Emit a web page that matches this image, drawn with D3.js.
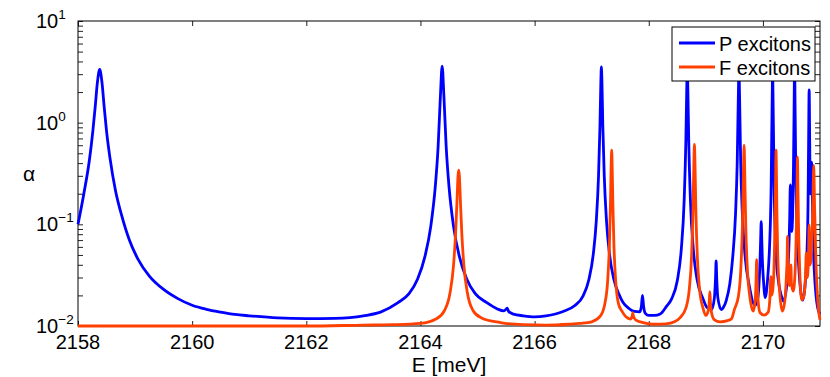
<!DOCTYPE html>
<html>
<head>
<meta charset="utf-8">
<script src="https://cdn.jsdelivr.net/npm/d3@7"></script>
<style>
  body { margin: 0; background: #fff; }
  svg { display: block; }
  text { font-family: "Liberation Sans", Arial, Helvetica, sans-serif; fill: #000; }
</style>
</head>
<body>
<svg id="chart" width="830" height="377"></svg>
<script>
// P excitons (blue), energy in meV and absorption
const pE = [2158.00, 2158.10, 2158.20, 2158.26, 2158.30, 2158.34, 2158.38, 2158.42, 2158.46, 2158.50,
  2158.56, 2158.66, 2158.76, 2158.90, 2159.05, 2159.25, 2159.50, 2159.75, 2160.00, 2160.25,
  2160.50, 2160.75, 2161.00, 2161.50, 2162.00, 2162.50, 2163.00, 2163.30, 2163.60, 2163.80,
  2163.95, 2164.08, 2164.18, 2164.26, 2164.31, 2164.35, 2164.38, 2164.41, 2164.45, 2164.50,
  2164.58, 2164.68, 2164.81, 2164.96, 2165.16, 2165.35, 2165.46, 2165.50, 2165.52, 2165.545,
  2165.63, 2165.80, 2166.00, 2166.20, 2166.50, 2166.70, 2166.85, 2166.95, 2167.03, 2167.08,
  2167.12, 2167.145, 2167.16, 2167.17, 2167.18, 2167.195, 2167.22, 2167.26, 2167.31, 2167.39,
  2167.49, 2167.55, 2167.64, 2167.75, 2167.84, 2167.87, 2167.89, 2167.91, 2167.94, 2168.00,
  2168.10, 2168.20, 2168.31, 2168.40, 2168.50, 2168.57, 2168.62, 2168.65, 2168.665, 2168.675,
  2168.685, 2168.70, 2168.73, 2168.78, 2168.85, 2168.95, 2169.02, 2169.10, 2169.15, 2169.17,
  2169.18, 2169.19, 2169.21, 2169.27, 2169.30, 2169.36, 2169.42, 2169.47, 2169.52, 2169.55,
  2169.57, 2169.58, 2169.59, 2169.61, 2169.64, 2169.69, 2169.76, 2169.86, 2169.90, 2169.93,
  2169.95, 2169.96, 2169.97, 2169.98, 2169.99, 2170.01, 2170.04, 2170.08, 2170.11, 2170.13,
  2170.145, 2170.155, 2170.165, 2170.17, 2170.175, 2170.185, 2170.195, 2170.21, 2170.23, 2170.27,
  2170.32, 2170.36, 2170.42, 2170.45, 2170.47, 2170.48, 2170.49, 2170.505, 2170.52, 2170.535,
  2170.545, 2170.555, 2170.565, 2170.575, 2170.59, 2170.61, 2170.64, 2170.68, 2170.70, 2170.74,
  2170.77, 2170.79, 2170.80, 2170.81, 2170.82, 2170.83, 2170.845, 2170.855, 2170.865, 2170.88,
  2170.90, 2170.93, 2170.96, 2171.00];
const pA = [0.100, 0.197, 0.429, 0.825, 1.405, 2.49, 3.35, 2.49, 1.405, 0.825,
  0.45, 0.21, 0.125, 0.070, 0.0455, 0.031, 0.0229, 0.0186, 0.0160, 0.0146,
  0.0137, 0.0130, 0.0126, 0.0120, 0.0118, 0.0119, 0.0126, 0.0137, 0.0169, 0.0208,
  0.029, 0.0486, 0.095, 0.236, 0.59, 1.86, 3.6, 1.86, 0.59, 0.236,
  0.095, 0.0486, 0.029, 0.0208, 0.0170, 0.0147, 0.0141, 0.0146, 0.0150, 0.0139,
  0.0131, 0.0126, 0.0123, 0.0126, 0.0139, 0.0158, 0.0198, 0.0285, 0.052, 0.107,
  0.30, 0.934, 2.44, 3.53, 2.44, 0.934, 0.30, 0.107, 0.052, 0.0285,
  0.0198, 0.0170, 0.0151, 0.0139, 0.0138, 0.0155, 0.0200, 0.0155, 0.0133, 0.0127,
  0.0127, 0.0131, 0.0156, 0.0185, 0.028, 0.057, 0.171, 0.667, 2.07, 3.5,
  2.07, 0.667, 0.171, 0.057, 0.028, 0.0185, 0.0152, 0.0145, 0.019, 0.030,
  0.0436, 0.030, 0.019, 0.0145, 0.0150, 0.018, 0.026, 0.047, 0.126, 0.415,
  1.92, 3.5, 1.92, 0.415, 0.126, 0.047, 0.025, 0.0160, 0.0175, 0.025,
  0.045, 0.07, 0.106, 0.07, 0.045, 0.028, 0.019, 0.028, 0.05, 0.10,
  0.25, 0.8, 2.2, 3.5, 2.2, 0.8, 0.25, 0.10, 0.05, 0.028,
  0.020, 0.0175, 0.026, 0.05, 0.12, 0.244, 0.15, 0.085, 0.12, 0.35,
  1.2, 3.5, 1.2, 0.35, 0.12, 0.06, 0.03, 0.019, 0.018, 0.026,
  0.05, 0.15, 0.6, 2.1, 0.6, 0.2, 0.3, 0.41, 0.2, 0.07,
  0.035, 0.020, 0.015, 0.013];

// F excitons (orange)
const fE = [2158.00, 2160.00, 2162.00, 2163.00, 2163.50, 2164.00, 2164.27, 2164.42, 2164.52, 2164.58,
  2164.615, 2164.64, 2164.658, 2164.67, 2164.682, 2164.70, 2164.725, 2164.76, 2164.82, 2164.92,
  2165.07, 2165.40, 2165.80, 2166.20, 2166.60, 2166.80, 2167.00, 2167.15, 2167.23, 2167.28,
  2167.31, 2167.33, 2167.34, 2167.35, 2167.36, 2167.37, 2167.39, 2167.42, 2167.47, 2167.53,
  2167.60, 2167.68, 2167.71, 2167.72, 2167.73, 2167.77, 2167.90, 2168.10, 2168.30, 2168.45,
  2168.55, 2168.65, 2168.71, 2168.75, 2168.775, 2168.79, 2168.80, 2168.81, 2168.825, 2168.85,
  2168.89, 2168.95, 2169.00, 2169.04, 2169.06, 2169.07, 2169.08, 2169.10, 2169.15, 2169.25,
  2169.38, 2169.45, 2169.50, 2169.57, 2169.61, 2169.64, 2169.655, 2169.665, 2169.67, 2169.675,
  2169.685, 2169.70, 2169.73, 2169.77, 2169.83, 2169.865, 2169.88, 2169.89, 2169.90, 2169.915,
  2169.95, 2170.02, 2170.09, 2170.12, 2170.14, 2170.15, 2170.17, 2170.20, 2170.215, 2170.225,
  2170.23, 2170.235, 2170.245, 2170.26, 2170.295, 2170.34, 2170.38, 2170.41, 2170.425, 2170.43,
  2170.44, 2170.46, 2170.475, 2170.49, 2170.50, 2170.53, 2170.565, 2170.585, 2170.598, 2170.605,
  2170.612, 2170.625, 2170.645, 2170.68, 2170.72, 2170.745, 2170.76, 2170.775, 2170.795, 2170.81,
  2170.825, 2170.855, 2170.875, 2170.89, 2170.905, 2170.93, 2170.96, 2171.00];
const fA = [0.0100, 0.0100, 0.0100, 0.0102, 0.0103, 0.0106, 0.0117, 0.0142, 0.0215, 0.040,
  0.080, 0.169, 0.299, 0.342, 0.299, 0.169, 0.080, 0.040, 0.0215, 0.0142,
  0.0120, 0.0108, 0.0103, 0.0102, 0.0104, 0.0106, 0.0110, 0.0125, 0.0165, 0.028,
  0.0616, 0.17, 0.348, 0.538, 0.348, 0.17, 0.0616, 0.028, 0.0165, 0.0140,
  0.0123, 0.0117, 0.0126, 0.0135, 0.0126, 0.0115, 0.0108, 0.0104, 0.0105, 0.0110,
  0.0121, 0.0150, 0.023, 0.049, 0.14, 0.39, 0.61, 0.39, 0.14, 0.049,
  0.023, 0.0150, 0.0127, 0.0140, 0.0175, 0.0218, 0.0175, 0.0135, 0.0115, 0.0110,
  0.0113, 0.0118, 0.0145, 0.0195, 0.034, 0.094, 0.245, 0.511, 0.60, 0.511,
  0.245, 0.094, 0.034, 0.0195, 0.0140, 0.018, 0.028, 0.045, 0.028, 0.018,
  0.0135, 0.0128, 0.0136, 0.018, 0.0306, 0.020, 0.022, 0.049, 0.132, 0.386,
  0.537, 0.386, 0.132, 0.049, 0.021, 0.0140, 0.017, 0.030, 0.050, 0.076,
  0.045, 0.025, 0.028, 0.040, 0.026, 0.022, 0.035, 0.09, 0.25, 0.46,
  0.25, 0.09, 0.035, 0.018, 0.020, 0.030, 0.052, 0.030, 0.040, 0.099,
  0.040, 0.060, 0.15, 0.38, 0.15, 0.040, 0.018, 0.0115];

const xTicks = [2158, 2160, 2162, 2164, 2166, 2168, 2170];
const yMajor = [0.01, 0.1, 1, 10];
const yMinor = [0.02, 0.03, 0.04, 0.05, 0.06, 0.07, 0.08, 0.09,
  0.2, 0.3, 0.4, 0.5, 0.6, 0.7, 0.8, 0.9,
  2, 3, 4, 5, 6, 7, 8, 9];
const seriesNames = ['P excitons', 'F excitons'];
const seriesColors = ['#0000ff', '#ff4000'];

const plotL = 78, plotR = 820, plotT = 21, plotB = 326;

const svg = d3.select('#chart');
const x = d3.scaleLinear().domain([2158, 2171]).range([plotL, plotR]);
const y = d3.scaleLog().domain([0.01, 10]).range([plotB, plotT]);

// ticks (pointing inward on all four sides)
const tickStyle = g => {
  g.select('.domain').remove();
  g.selectAll('.tick line').attr('stroke', '#222').attr('stroke-width', 1);
};
svg.append('g').attr('transform', `translate(0,${plotB})`)
  .call(d3.axisBottom(x).tickValues(xTicks).tickSize(-5).tickFormat(''))
  .call(tickStyle);
svg.append('g').attr('transform', `translate(0,${plotT})`)
  .call(d3.axisTop(x).tickValues(xTicks).tickSize(-5).tickFormat(''))
  .call(tickStyle);
[yMajor, yMinor].forEach(vals => {
  svg.append('g').attr('transform', `translate(${plotL},0)`)
    .call(d3.axisLeft(y).tickValues(vals).tickSize(-5).tickFormat(''))
    .call(tickStyle);
  svg.append('g').attr('transform', `translate(${plotR},0)`)
    .call(d3.axisRight(y).tickValues(vals).tickSize(-5).tickFormat(''))
    .call(tickStyle);
});

svg.append('rect')
  .attr('x', plotL).attr('y', plotT)
  .attr('width', plotR - plotL).attr('height', plotB - plotT)
  .attr('fill', 'none').attr('stroke', '#000').attr('stroke-width', 1);

// x tick labels
svg.append('g').selectAll('text')
  .data(xTicks).join('text')
  .attr('x', d => x(d)).attr('y', plotB + 23)
  .attr('text-anchor', 'middle')
  .style('font-size', '20px')
  .text(d => d);

// y tick labels as 10^n
const yl = svg.append('g').selectAll('text')
  .data(yMajor).join('text')
  .attr('x', 36).attr('y', d => y(d) + 7)
  .style('font-size', '20px');
yl.append('tspan').text('10');
yl.append('tspan')
  .attr('dy', -9)
  .style('font-size', '13.5px')
  .text(d => { const e = Math.round(Math.log10(d)); return e < 0 ? '\u2212' + (-e) : e; });

// axis titles
svg.append('text')
  .attr('x', (plotL + plotR) / 2).attr('y', 372)
  .attr('text-anchor', 'middle')
  .style('font-size', '21px')
  .text('E [meV]');
svg.append('text')
  .attr('x', 29).attr('y', 181)
  .attr('text-anchor', 'middle')
  .style('font-size', '21px')
  .text('\u03b1');

// curves
const line = d3.line()
  .x(d => x(d[0]))
  .y(d => y(d[1]))
  .curve(d3.curveMonotoneX);

const series = [d3.zip(pE, pA), d3.zip(fE, fA)];
svg.append('g').selectAll('path')
  .data(series).join('path')
  .attr('d', line)
  .attr('fill', 'none')
  .attr('stroke', (d, i) => seriesColors[i])
  .attr('stroke-width', 2.8)
  .attr('stroke-linejoin', 'round');

// legend
const lg = svg.append('g');
lg.append('rect')
  .attr('x', 672).attr('y', 27).attr('width', 143).attr('height', 54)
  .attr('fill', '#fff').attr('stroke', '#000').attr('stroke-width', 1);
const items = lg.selectAll('g.item')
  .data(seriesNames).join('g')
  .attr('class', 'item')
  .attr('transform', (d, i) => `translate(0,${43 + i * 24})`);
items.append('line')
  .attr('x1', 679).attr('x2', 715)
  .attr('stroke', (d, i) => seriesColors[i])
  .attr('stroke-width', 2.8);
items.append('text')
  .attr('x', 719).attr('y', 7.5)
  .style('font-size', '20px')
  .text(d => d);
</script>
</body>
</html>
